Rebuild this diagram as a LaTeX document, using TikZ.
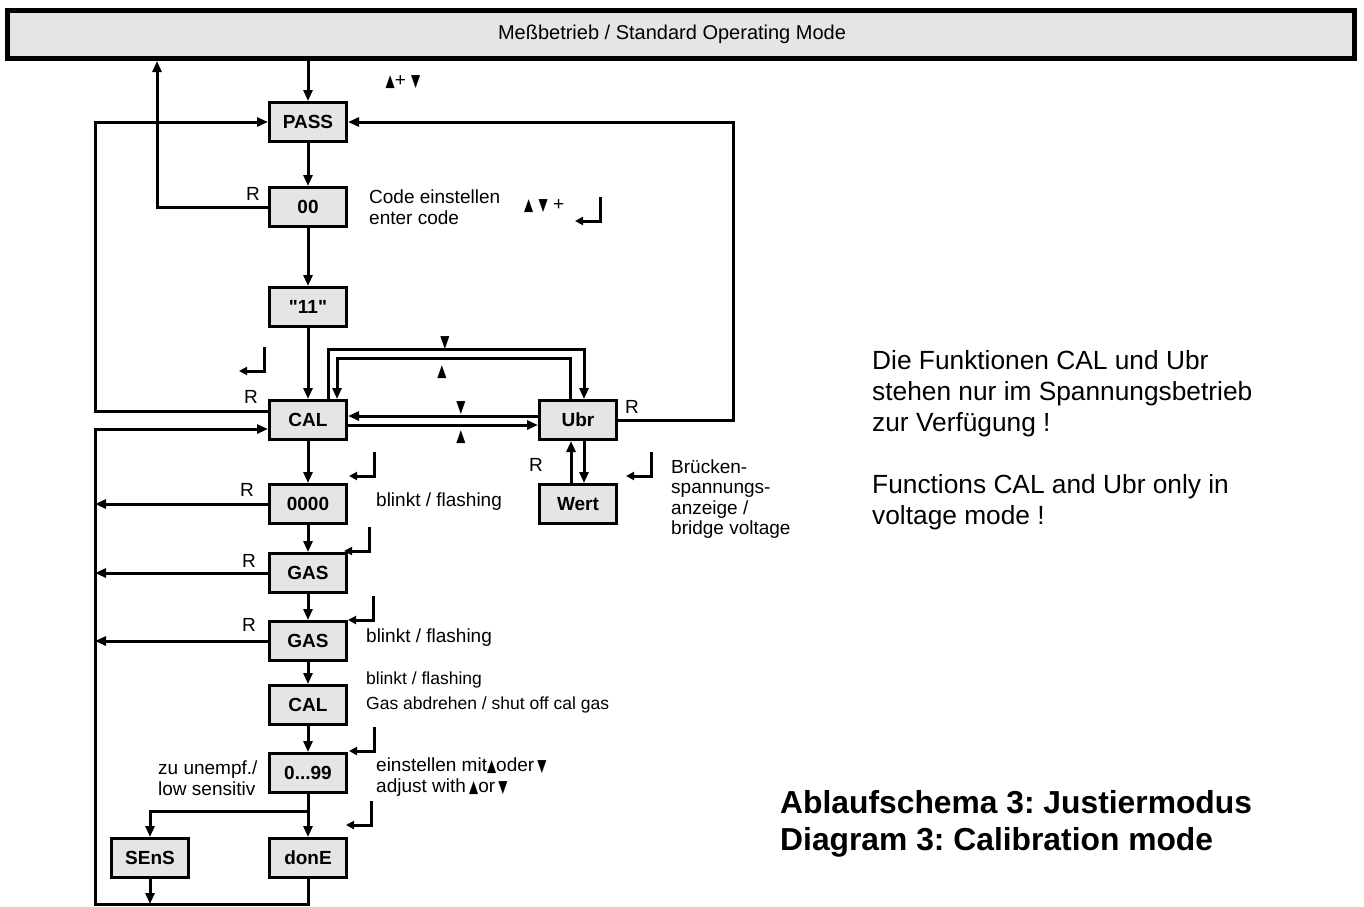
\documentclass[tikz,border=0pt]{standalone}
\usepackage{fontspec}
\setmainfont{Liberation Sans}[Ligatures=TeXOff]
\newfontfamily\symfont{DejaVu Sans}
\usetikzlibrary{positioning}
\usetikzlibrary{arrows.meta}
\frenchspacing
\tikzset{
    modebox/.style = {rectangle, line width=5pt, draw=black, fill=gray!20, minimum width=1347pt, minimum height=48pt, inner sep=0pt, font=\fontsize{20}{20}\selectfont},
    mybox/.style = {rectangle, line width=3pt, draw=black, fill=gray!20, minimum width=77pt, minimum height=39pt, inner sep=0pt, font=\bfseries\fontsize{19}{19}\selectfont},
    edgen/.style = {line width=3pt, -{Triangle[length=11pt,width=9pt]}},
    rlab/.style = {inner sep=0pt, font=\fontsize{19}{19}\selectfont},
    note/.style = {inner sep=0pt, align=left, anchor=west, font=\fontsize{19}{20.5}\selectfont},
    hint/.style = {inner sep=0pt, align=left, anchor=west, font=\fontsize{26.3}{31}\selectfont},
    headline/.style = {inner sep=0pt, align=left, anchor=west, font=\bfseries\fontsize{31.8}{37}\selectfont},
    enterkey/.pic = {\draw[line width=3pt, -{Triangle[length=8pt,width=8pt]}] (0,0) -- (0,24) -- (-25,24);}
}
\newcommand{\tup}{{\fontsize{17}{17}\symfont\scalebox{0.7}[1]{▲}}}
\newcommand{\tdn}{{\fontsize{17}{17}\symfont\scalebox{0.7}[1]{▼}}}

\begin{document}
\begin{tikzpicture}[x=1pt,y=-1pt]
\useasboundingbox (0,0) rectangle (1364,906);
\node[modebox] at (681,34.5) (top) {\kern-18pt Meßbetrieb / Standard Operating Mode};
\node[mybox] at (308,122) (pass) {PASS};
\node[mybox] at (308,207) (code) {00};
\node[mybox] at (308,307) (eleven) {"11"};
\node[mybox] at (308,420) (cal) {CAL};
\node[mybox] at (578,420) (ubr) {Ubr};
\node[mybox] at (578,504) (wert) {Wert};
\node[mybox] at (308,504) (zero) {0000};
\node[mybox] at (308,573) (gasa) {GAS};
\node[mybox] at (308,641) (gasb) {GAS};
\node[mybox] at (308,705) (calb) {CAL};
\node[mybox] at (308,773) (adj) {0...99};
\node[mybox] at (308,858) (done) {donE};
\node[mybox] at (150,858) (sens) {SEnS};
%
\coordinate (lx) at (95,0);
\coordinate (ux) at (157,0);
\coordinate (rx) at (733,0);
\coordinate (bot) at (95,904);
\coordinate (fork) at (308,811);
\coordinate (loopo) at (0,349);
\coordinate (loopi) at (0,358);
%
\draw[edgen] (top.south -| pass.north) -- (pass.north);
\draw[edgen] (pass) -- (code);
\draw[edgen] (code) -- (eleven);
\draw[edgen] (eleven) -- (cal);
\draw[edgen] (code.west) -| (ux |- top.south);
\draw[edgen] ([yshift=9pt]cal.west) -| (lx |- pass.west) -- (pass.west);
\draw[edgen] (ubr.east) -| (rx |- pass.east) -- (pass.east);
\draw[edgen] (cal) -- (zero);
\draw[edgen] (zero) -- (gasa);
\draw[edgen] (gasa) -- (gasb);
\draw[edgen] (gasb) -- (calb);
\draw[edgen] (calb) -- (adj);
\draw[edgen] (adj) -- (done);
\draw[edgen] (fork) -| (sens.north);
\draw[edgen] (zero.west) -- (lx |- zero.west);
\draw[edgen] (gasa.west) -- (lx |- gasa.west);
\draw[edgen] (gasb.west) -- (lx |- gasb.west);
\draw[edgen] (sens.south) -- (sens.south |- bot);
\draw[edgen] (done.south) |- (bot) |- ([yshift=-9pt]cal.west);
% CAL <-> Ubr
\draw[edgen] ([yshift=4pt]ubr.west) -- ([yshift=4pt]cal.east);
\draw[edgen] ([yshift=-5pt]cal.east) -- ([yshift=-5pt]ubr.west);
\draw[edgen] ([xshift=20pt]cal.north) -- ([xshift=20pt]cal.north |- loopo) -| ([xshift=6pt]ubr.north);
\draw[edgen] ([xshift=-8pt]ubr.north) -- ([xshift=-8pt]ubr.north |- loopi) -| ([xshift=29pt]cal.north);
\draw[edgen] ([xshift=-7pt]wert.north) -- ([xshift=-7pt]ubr.south);
\draw[edgen] ([xshift=6pt]ubr.south) -- ([xshift=6pt]wert.north);
%
\node[rlab] at (253,194) (r1) {R};
\node[rlab] at (251,397) (r2) {R};
\node[rlab] at (247,490) (r3) {R};
\node[rlab] at (249,561) (r4) {R};
\node[rlab] at (249,625) (r5) {R};
\node[rlab] at (632,407) (r6) {R};
\node[rlab] at (536,465) (r7) {R};
%
\node[inner sep=0pt] at (445,343) (m1) {\tdn};
\node[inner sep=0pt] at (442,372) (m2) {\tup};
\node[inner sep=0pt] at (461,408) (m3) {\tdn};
\node[inner sep=0pt] at (461,437) (m4) {\tup};
%
\pic at (600,197) {enterkey};
\pic at (264,347) {enterkey};
\pic at (374,452) {enterkey};
\pic at (651,452) {enterkey};
\pic at (369,527) {enterkey};
\pic at (373,596) {enterkey};
\pic at (374,727) {enterkey};
\pic at (371,801) {enterkey};
%
\node[note, anchor=center] at (403,82) (t1) {\tup+ \tdn};
\node[note] at (369,207) (t2) {Code einstellen\\enter code};
\node[note] at (524,206) (t3) {\tup\ \tdn\ +};
\node[note] at (376,502) (t4) {blinkt / flashing};
\node[note] at (671,499) (t5) {Brücken-\\spannungs-\\anzeige /\\bridge voltage};
\node[note] at (366,638) (t6) {blinkt / flashing};
\node[note, font=\fontsize{17.5}{25}\selectfont] at (366,692) (t7) {blinkt / flashing\\Gas abdrehen / shut off cal gas};
\node[note] at (158,778) (t8) {zu unempf./\\low sensitiv};
\node[note] at (376,777) (t9) {einstellen mit\tup oder\,\tdn\\adjust with\,\tup or\,\tdn};
\node[hint] at (872,440) (t10) {Die Funktionen CAL und Ubr\\stehen nur im Spannungsbetrieb\\zur Verfügung !\\[31pt]Functions CAL and Ubr only in\\voltage mode !};
\node[headline] at (780,824) (t11) {Ablaufschema 3: Justiermodus\\Diagram 3: Calibration mode};
\end{tikzpicture}
\end{document}
